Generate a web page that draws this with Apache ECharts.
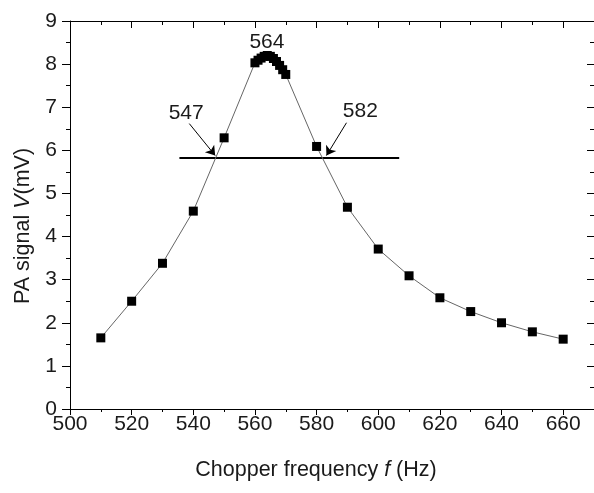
<!DOCTYPE html>
<html>
<head>
<meta charset="utf-8">
<script src="https://cdn.jsdelivr.net/npm/echarts@6/dist/echarts.min.js"></script>
<style>
html,body{margin:0;padding:0;background:#fff;}
#c{width:594px;height:493px;}
</style>
</head>
<body>
<div id="c"></div>
<script>
// Data
const freq = [510,520,530,540,550,560,561,562,563,564,565,566,567,568,569,570,580,590,600,610,620,630,640,650,660];
const signal = [1.65,2.50,3.38,4.59,6.29,8.03,8.09,8.14,8.18,8.20,8.18,8.13,8.06,7.97,7.87,7.76,6.09,4.68,3.71,3.09,2.58,2.26,2.00,1.79,1.62];
const xTicks = [500,520,540,560,580,600,620,640,660];
const yTicks = [0,1,2,3,4,5,6,7,8,9];
// Horizontal level line (f range, V level)
const levelF = [535.5, 606.8];
const levelV = 5.82;
// Annotation texts and positions
const annoText = ['547','582','564'];
const annoF = [537.7, 594.2, 563.9];
const annoV = [6.85, 6.90, 8.50];
// Arrows: start (f,V) -> tip (f,V)
const arrowStartF = [538.7, 589.7];
const arrowStartV = [6.62, 6.64];
const arrowTipF = [547.1, 583.2];
const arrowTipV = [5.88, 5.88];

const FONT = '"Liberation Sans", Arial, Helvetica, sans-serif';
const TXT = '#1a1a1a';

const chart = echarts.init(document.getElementById('c'), null, {renderer:'canvas'});

const xBase = {min: 500, max: 670, gridIndex: 0};
const yBase = {min: 0, max: 9, gridIndex: 0};
const lineStyle = {color: '#000', width: 1};

const option = {
  animation: false,
  backgroundColor: '#fff',
  grid: {left: 70, top: 21, width: 527, height: 388, containLabel: false},
  xAxis: [
    Object.assign({}, xBase, {
      type: 'value', position: 'bottom', interval: 20,
      axisLine: {show: true, onZero: false, lineStyle},
      axisTick: {show: true, length: 6, inside: false, lineStyle},
      axisLabel: {show: true, margin: 5, color: TXT, fontSize: 21, fontFamily: FONT, showMaxLabel: false,
        formatter: v => (xTicks.indexOf(v) >= 0 ? String(v) : '')},
      splitLine: {show: false},
      name: '{a|Chopper frequency }{i|f}{a| (Hz)}',
      nameLocation: 'middle', nameGap: 50,
      nameTextStyle: {padding: [0, 32, 0, 0], rich: {
        a: {fontSize: 21.5, fontFamily: FONT, color: TXT},
        i: {fontSize: 21.5, fontFamily: FONT, color: TXT, fontStyle: 'italic'}}}
    }),
    Object.assign({}, xBase, {
      type: 'value', position: 'bottom', interval: 10,
      axisLine: {show: false, onZero: false},
      axisTick: {show: true, length: 3, inside: false, lineStyle},
      axisLabel: {show: false}, splitLine: {show: false}
    }),
    Object.assign({}, xBase, {
      type: 'value', position: 'top', interval: 20,
      axisLine: {show: true, onZero: false, lineStyle},
      axisTick: {show: true, length: 7, inside: true, lineStyle},
      axisLabel: {show: false}, splitLine: {show: false}
    }),
    Object.assign({}, xBase, {
      type: 'value', position: 'top', interval: 10,
      axisLine: {show: false, onZero: false},
      axisTick: {show: true, length: 4, inside: true, lineStyle},
      axisLabel: {show: false}, splitLine: {show: false}
    })
  ],
  yAxis: [
    Object.assign({}, yBase, {
      type: 'value', position: 'left', interval: 1,
      axisLine: {show: true, onZero: false, lineStyle},
      axisTick: {show: true, length: 8, inside: false, lineStyle},
      minorTick: {show: true, splitNumber: 2, length: 4, lineStyle},
      axisLabel: {show: true, margin: 13, color: TXT, fontSize: 21, fontFamily: FONT,
        formatter: v => (yTicks.indexOf(v) >= 0 ? String(v) : '')},
      splitLine: {show: false}, minorSplitLine: {show: false},
      name: '{a|PA signal }{i|V}{a|(mV)}',
      nameLocation: 'middle', nameGap: 34,
      nameTextStyle: {padding: [0, 22, 0, 0], rich: {
        a: {fontSize: 21.5, fontFamily: FONT, color: TXT},
        i: {fontSize: 21.5, fontFamily: FONT, color: TXT, fontStyle: 'italic'}}}
    }),
    Object.assign({}, yBase, {
      type: 'value', position: 'right', interval: 1,
      axisLine: {show: true, onZero: false, lineStyle},
      axisTick: {show: true, length: 7, inside: true, lineStyle},
      minorTick: {show: true, splitNumber: 2, length: 4, lineStyle},
      axisLabel: {show: false}, splitLine: {show: false}, minorSplitLine: {show: false}
    })
  ],
  series: [
    {
      type: 'line', name: 'signal', xAxisIndex: 0, yAxisIndex: 0,
      data: freq.map((f, i) => [f, signal[i]]),
      symbol: 'rect', symbolSize: 9,
      itemStyle: {color: '#000'},
      lineStyle: {color: '#666', width: 1},
      z: 3
    },
    {
      type: 'line', name: 'level', xAxisIndex: 0, yAxisIndex: 0,
      data: levelF.map(f => [f, levelV]),
      symbol: 'none',
      lineStyle: {color: '#000', width: 2},
      z: 2,
      markLine: {
        silent: true, symbol: ['none', 'arrow'], symbolSize: 9,
        label: {show: false},
        lineStyle: {color: '#000', width: 1, type: 'solid'},
        data: arrowStartF.map((f, i) => [
          {coord: [f, arrowStartV[i]]},
          {coord: [arrowTipF[i], arrowTipV[i]]}
        ])
      }
    },
    {
      type: 'scatter', name: 'labels', xAxisIndex: 0, yAxisIndex: 0,
      data: annoF.map((f, i) => ({value: [f, annoV[i]], name: annoText[i]})),
      symbol: 'circle', symbolSize: 1, itemStyle: {color: 'transparent', opacity: 1},
      label: {show: true, position: 'inside', formatter: '{b}', color: TXT, opacity: 1, fontSize: 21, fontFamily: FONT},
      z: 4
    }
  ]
};
chart.setOption(option);
</script>
</body>
</html>
